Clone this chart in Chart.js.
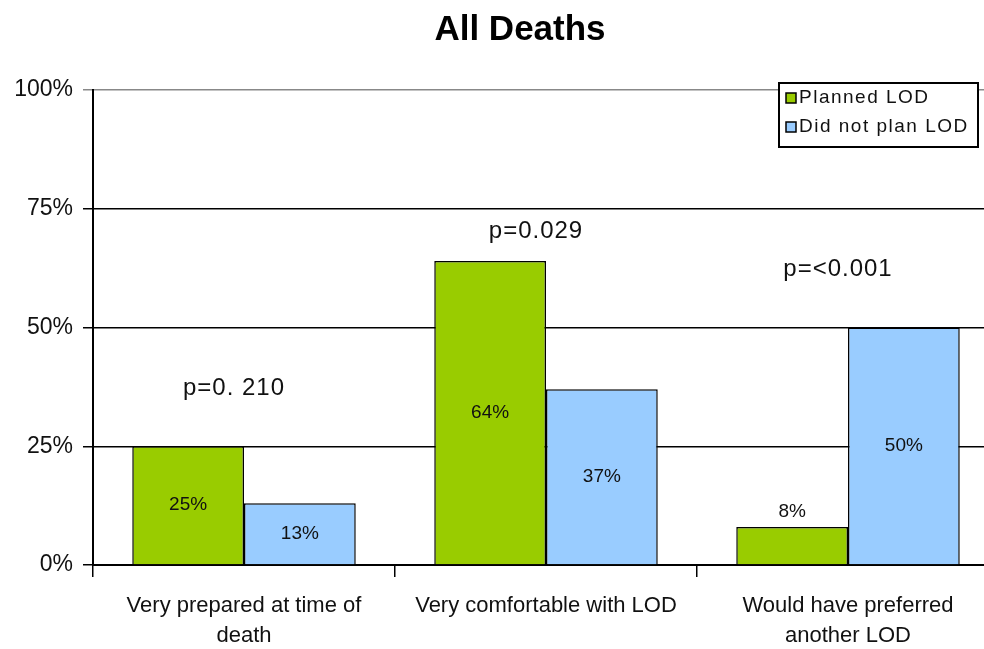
<!DOCTYPE html>
<html>
<head>
<meta charset="utf-8">
<script src="https://cdn.jsdelivr.net/npm/chart.js@4"></script>
<style>
  html, body { margin: 0; padding: 0; background: #fff; overflow: hidden; }
  #chart { display: block; }
</style>
</head>
<body>
<canvas id="chart" width="1040" height="649"></canvas>
<script>
// chart data
const categories = [
    ["Very prepared at time of", "death"],
    "Very comfortable with LOD",
    ["Would have preferred", "another LOD"]
];
const planned = [25, 64, 8];
const notPlanned = [13, 37, 50];
const pLabels = ["p=0. 210", "p=0.029", "p=<0.001"];
const yTicks = [0, 25, 50, 75, 100];

const FONT = "'Liberation Sans', Arial, sans-serif";

// value labels on the bars
const barLabels = {
    id: "barLabels",
    afterDatasetsDraw(chart) {
        const ctx = chart.ctx;
        ctx.save();
        ctx.font = "19px " + FONT;
        ctx.fillStyle = "#111";
        ctx.textAlign = "center";
        ctx.textBaseline = "middle";
        chart.data.datasets.forEach((ds, di) => {
            chart.getDatasetMeta(di).data.forEach((bar, i) => {
                const h = bar.base - bar.y;
                const y = h < 45 ? bar.y - 15 : (bar.y + bar.base) / 2;
                ctx.fillText(ds.data[i] + "%", bar.x, y);
            });
        });
        ctx.restore();
    }
};

// p-values above each group
const pValueLabels = {
    id: "pValueLabels",
    afterDatasetsDraw(chart) {
        const ctx = chart.ctx;
        const xs = chart.scales.x, ys = chart.scales.y;
        ctx.save();
        ctx.font = "24px " + FONT;
        ctx.letterSpacing = "1px";
        ctx.fillStyle = "#111";
        ctx.textAlign = "center";
        ctx.textBaseline = "middle";
        pLabels.forEach((txt, i) => {
            const top = ys.getPixelForValue(Math.max(planned[i], notPlanned[i]));
            const y = Math.max(top - 58, ys.getPixelForValue(75) + 23);
            ctx.fillText(txt, xs.getPixelForValue(i) - 10, y);
        });
        ctx.restore();
    }
};

// boxed legend inside the top right corner
const boxLegend = {
    id: "boxLegend",
    afterDraw(chart) {
        const ctx = chart.ctx;
        const area = chart.chartArea;
        ctx.save();
        ctx.font = "19px " + FONT;
        ctx.letterSpacing = "1.5px";
        const right = area.right - 21;
        const left = right - 199;
        const top = area.top - 7;
        ctx.fillStyle = "#fff";
        ctx.fillRect(left, top, 199, 64);
        ctx.strokeStyle = "#000";
        ctx.lineWidth = 2;
        ctx.strokeRect(left, top, 199, 64);
        ctx.textBaseline = "middle";
        chart.data.datasets.forEach((ds, i) => {
            const cy = top + 15 + i * 29;
            ctx.fillStyle = ds.backgroundColor;
            ctx.fillRect(left + 7, cy - 5, 10, 10);
            ctx.lineWidth = 1.5;
            ctx.strokeRect(left + 7, cy - 5, 10, 10);
            ctx.fillStyle = "#111";
            ctx.fillText(ds.label, left + 20, cy);
        });
        ctx.restore();
    }
};

new Chart(document.getElementById("chart"), {
    type: "bar",
    data: {
        labels: categories,
        datasets: [{
            label: "Planned LOD",
            data: planned,
            backgroundColor: "#99cc00",
            borderColor: "#000",
            borderWidth: 1.5,
            categoryPercentage: 0.74,
            barPercentage: 1.0
        }, {
            label: "Did not plan LOD",
            data: notPlanned,
            backgroundColor: "#99ccff",
            borderColor: "#000",
            borderWidth: 1.5,
            categoryPercentage: 0.74,
            barPercentage: 1.0
        }]
    },
    options: {
        responsive: false,
        animation: false,
        plugins: {
            legend: { display: false },
            tooltip: { enabled: false },
            title: {
                display: true,
                text: "All Deaths",
                color: "#000",
                font: { family: FONT, size: 35, weight: "bold" },
                padding: { top: 9, bottom: 39 }
            }
        },
        scales: {
            y: {
                min: 0,
                max: 100,
                afterBuildTicks: axis => { axis.ticks = yTicks.map(v => ({ value: v })); },
                afterFit: axis => { axis.width = 93; },
                ticks: {
                    callback: v => v + "%",
                    color: "#111",
                    padding: 10,
                    font: { family: FONT, size: 23 }
                },
                grid: {
                    color: ctx => ctx.tick && ctx.tick.value === 100 ? "#888" : "#000",
                    lineWidth: 1.5,
                    tickLength: 10
                },
                border: { color: "#000", width: 2 }
            },
            // empty right axis, only reserves the strip past the window edge
            yRight: {
                position: "right",
                min: 0,
                max: 100,
                afterFit: axis => { axis.width = 41; },
                ticks: { display: false },
                grid: { display: false },
                border: { display: false }
            },
            x: {
                afterFit: axis => { axis.height = 84; },
                ticks: {
                    color: "#111",
                    padding: 14,
                    maxRotation: 0,
                    autoSkip: false,
                    font: { family: FONT, size: 22, lineHeight: 1.36 }
                },
                grid: {
                    offset: true,
                    drawOnChartArea: false,
                    color: "#000",
                    lineWidth: 1.5,
                    tickLength: 12
                },
                border: { color: "#000", width: 2 }
            }
        }
    },
    plugins: [barLabels, pValueLabels, boxLegend]
});
</script>
</body>
</html>
